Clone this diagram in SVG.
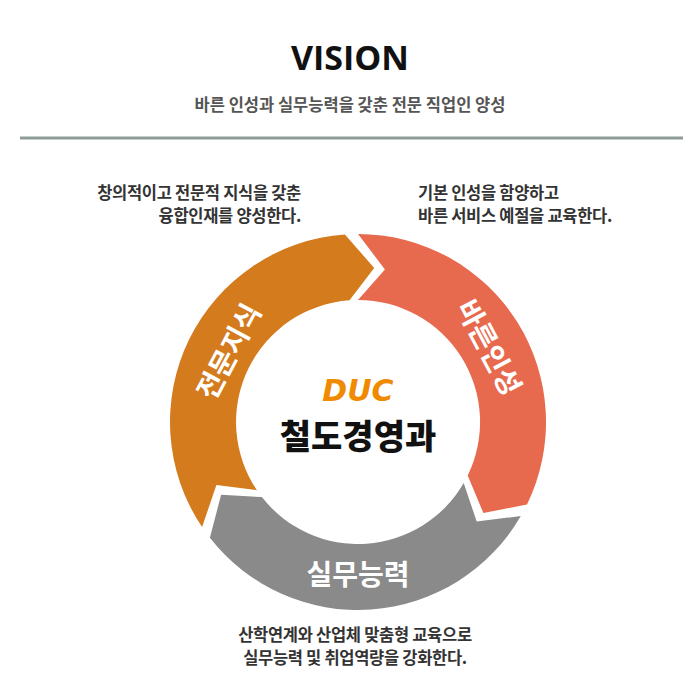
<svg xmlns="http://www.w3.org/2000/svg" width="700" height="700" viewBox="0 0 700 700">
<style>
text{font-family:"Noto Sans CJK KR","Noto Sans",sans-serif}
.d{font-size:16.5px;font-weight:700;fill:#333;letter-spacing:-0.3px}
.w{font-size:28px;font-weight:700;fill:#fff}
</style>
<rect width="700" height="700" fill="#fff"/>
<text x="350" y="70" text-anchor="middle" style="font-size:34px;font-weight:700;fill:#111;font-family:'Open Sans','Noto Sans',sans-serif">VISION</text>
<text x="350" y="111" text-anchor="middle" style="font-size:16.5px;font-weight:700;fill:#555">바른 인성과 실무능력을 갖춘 전문 직업인 양성</text>
<line x1="20" y1="138" x2="683" y2="138" stroke="#8e9c97" stroke-width="3"/>
<g id="node-orange">
<path d="M202.1,527.1 A188 188 0 0 1 344.9,234.5 L374.2,267.9 L349.5,300.3 A122 122 0 0 0 256.9,490.2 L216.4,485.0 Z" fill="#D47B1E"/>
<text class="w" transform="translate(230,352) rotate(-62)" text-anchor="middle" dy="9">전문지식</text>
</g>
<g id="node-red">
<path d="M358,234 A188 188 0 0 1 527.0,504.4 L483.4,513.1 L467.7,475.5 A122 122 0 0 0 358,300 L384.9,269.4 Z" fill="#E86A4E"/>
<text class="w" transform="translate(488,348) rotate(62)" text-anchor="middle" dy="9">바른인성</text>
</g>
<g id="node-gray">
<path d="M520.8,516 A188 188 0 0 1 209.9,537.8 L221.1,494.8 L261.9,497.1 A122 122 0 0 0 463.7,483 L476.7,521.6 Z" fill="#8A8A8A"/>
<text class="w" x="358" y="585" text-anchor="middle">실무능력</text>
</g>
<g id="node-center">
<text x="358" y="401" text-anchor="middle" style="font-size:30px;font-weight:700;font-style:italic;fill:#F08A00;font-family:'DejaVu Sans',sans-serif">DUC</text>
<text x="358" y="449" text-anchor="middle" style="font-size:34px;font-weight:900;fill:#111">철도경영과</text>
</g>
<g id="connectors"></g>
<g id="notes">
<text class="d" x="301" y="199" text-anchor="end">창의적이고 전문적 지식을 갖춘</text>
<text class="d" x="301" y="222" text-anchor="end">융합인재를 양성한다.</text>
<text class="d" x="418" y="199">기본 인성을 함양하고</text>
<text class="d" x="418" y="222">바른 서비스 예절을 교육한다.</text>
<text class="d" x="355" y="641" text-anchor="middle">산학연계와 산업체 맞춤형 교육으로</text>
<text class="d" x="355" y="664" text-anchor="middle">실무능력 및 취업역량을 강화한다.</text>
</g>
</svg>
